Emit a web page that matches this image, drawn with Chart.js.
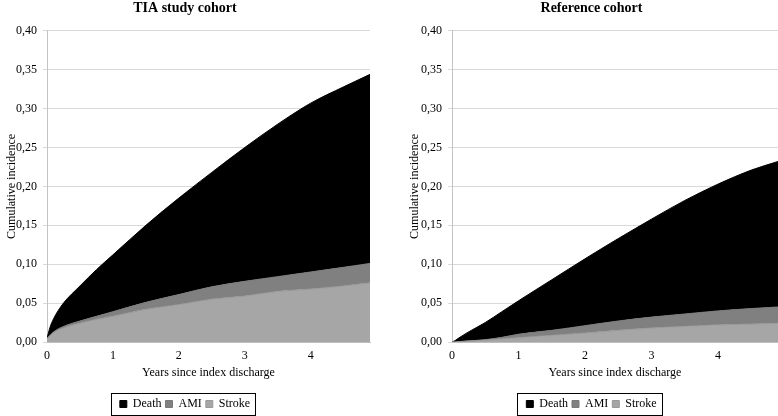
<!DOCTYPE html>
<html>
<head>
<meta charset="utf-8">
<script src="https://cdn.jsdelivr.net/npm/chart.js@4.4.0/dist/chart.umd.min.js"></script>
<style>
html, body { margin: 0; padding: 0; background: #fff; }
body { width: 778px; height: 416px; position: relative; overflow: hidden; }
.chart-box { position: absolute; top: 0; height: 416px; }
#tia-box { left: 0; width: 380px; }
#ref-box { left: 405px; width: 373px; }
</style>
</head>
<body>
<div class="chart-box" id="tia-box"><canvas id="tia-chart"></canvas></div>
<div class="chart-box" id="ref-box"><canvas id="ref-chart"></canvas></div>
<script>
// years since index discharge (x positions of the read-off points)
const years = [0, 0.05, 0.1, 0.25, 0.5, 0.75, 1, 1.5, 2, 2.5, 3, 3.5, 4, 4.5, 4.9];
const xTicks = [0, 1, 2, 3, 4];
const yTicks = [0, 0.05, 0.1, 0.15, 0.2, 0.25, 0.3, 0.35, 0.4];

// cumulative incidence, upper edge of each band (stroke, stroke+AMI, stroke+AMI+death)
const tiaStroke = [0.004, 0.008, 0.012, 0.018, 0.024, 0.029, 0.033, 0.042, 0.048, 0.055, 0.059, 0.065, 0.068, 0.072, 0.076];
const tiaAmi    = [0.005, 0.009, 0.013, 0.020, 0.027, 0.033, 0.039, 0.051, 0.061, 0.071, 0.078, 0.084, 0.090, 0.096, 0.101];
const tiaDeath  = [0.005, 0.020, 0.030, 0.050, 0.072, 0.093, 0.112, 0.150, 0.185, 0.218, 0.250, 0.280, 0.307, 0.328, 0.344];

const refStroke = [0, 0, 0.0003, 0.001, 0.0025, 0.004, 0.0055, 0.0085, 0.0115, 0.015, 0.018, 0.020, 0.022, 0.023, 0.024];
const refAmi    = [0, 0, 0.0005, 0.0015, 0.003, 0.006, 0.010, 0.015, 0.021, 0.027, 0.032, 0.036, 0.040, 0.043, 0.045];
const refDeath  = [0, 0.002, 0.005, 0.013, 0.025, 0.039, 0.053, 0.080, 0.107, 0.133, 0.158, 0.182, 0.203, 0.221, 0.232];

const serif = 'Liberation Serif, Times New Roman, serif';

const legendBorder = {
    id: 'legendBorder',
    afterDraw(chart) {
        const boxes = chart.legend && chart.legend.legendHitBoxes;
        if (!boxes || !boxes.length) return;
        const first = boxes[0];
        const last = boxes[boxes.length - 1];
        const left = Math.round(first.left - 9) + 0.5;
        const right = Math.round(last.left + last.width + 5) + 0.5;
        const top = Math.round(first.top - 5) + 0.5;
        const bottom = Math.round(first.top + first.height + 5) + 0.5;
        const ctx = chart.ctx;
        ctx.save();
        ctx.strokeStyle = '#000';
        ctx.lineWidth = 1;
        ctx.strokeRect(left, top, right - left, bottom - top);
        ctx.restore();
    }
};

function toPoints(values) {
    return years.map((x, i) => ({ x: x, y: values[i] }));
}

function makeChart(canvasId, title, stroke, ami, death, axisWidth, padRight, yTitlePad) {
    return new Chart(document.getElementById(canvasId), {
        type: 'line',
        data: {
            datasets: [
                {
                    label: 'Stroke',
                    data: toPoints(stroke),
                    backgroundColor: '#a6a6a6',
                    borderColor: '#999999',
                    borderWidth: 1,
                    fill: 'origin'
                },
                {
                    label: 'AMI',
                    data: toPoints(ami),
                    backgroundColor: '#808080',
                    borderColor: '#7a7a7a',
                    borderWidth: 1,
                    fill: '-1'
                },
                {
                    label: 'Death',
                    data: toPoints(death),
                    backgroundColor: '#000000',
                    borderColor: '#000000',
                    borderWidth: 1,
                    fill: '-1'
                }
            ]
        },
        options: {
            responsive: true,
            maintainAspectRatio: false,
            animation: false,
            // the legend block carries 10px of built-in spacing below the items; let it hang off the edge
            layout: { padding: { left: 0, right: padRight, top: 0, bottom: -4 } },
            elements: {
                point: { radius: 0, hoverRadius: 0 },
                line: { cubicInterpolationMode: 'monotone' }
            },
            scales: {
                x: {
                    type: 'linear',
                    min: 0,
                    max: 4.9,
                    grid: { display: false, drawTicks: false },
                    border: { display: true, color: '#bfbfbf' },
                    afterBuildTicks: (scale) => { scale.ticks = xTicks.map(v => ({ value: v })); },
                    afterFit: (scale) => { scale.height = 52; },
                    ticks: {
                        color: '#000',
                        font: { family: serif, size: 12 },
                        padding: 7,
                        maxRotation: 0
                    },
                    title: {
                        display: true,
                        text: 'Years since index discharge',
                        color: '#000',
                        font: { family: serif, size: 12 },
                        padding: { top: 0, bottom: 14 }
                    }
                },
                y: {
                    min: 0,
                    max: 0.4,
                    afterBuildTicks: (scale) => { scale.ticks = yTicks.map(v => ({ value: v })); },
                    afterFit: (scale) => { scale.width = axisWidth; },
                    grid: { color: '#d9d9d9', tickLength: 4 },
                    border: { display: true, color: '#c4c4c4' },
                    ticks: {
                        color: '#000',
                        font: { family: serif, size: 12 },
                        padding: 6,
                        callback: function(value) {
                            return Number(value).toFixed(2).replace('.', ',');
                        }
                    },
                    title: {
                        display: true,
                        text: 'Cumulative incidence',
                        color: '#000',
                        font: { family: serif, size: 12 },
                        padding: { top: yTitlePad, bottom: 0 }
                    }
                }
            },
            plugins: {
                title: {
                    display: true,
                    text: title,
                    color: '#000',
                    font: { family: serif, size: 14, weight: 'bold' },
                    padding: { top: 0, bottom: 14 }
                },
                legend: {
                    position: 'bottom',
                    reverse: true,
                    labels: {
                        color: '#000',
                        font: { family: serif, size: 12 },
                        boxWidth: 7,
                        boxHeight: 7,
                        padding: 4
                    }
                },
                tooltip: { enabled: false }
            }
        },
        plugins: [legendBorder]
    });
}

const tiaChart = makeChart('tia-chart', 'TIA study cohort', tiaStroke, tiaAmi, tiaDeath, 47, 10, 5);
const refChart = makeChart('ref-chart', 'Reference cohort', refStroke, refAmi, refDeath, 47, 0, 3);
</script>
</body>
</html>
